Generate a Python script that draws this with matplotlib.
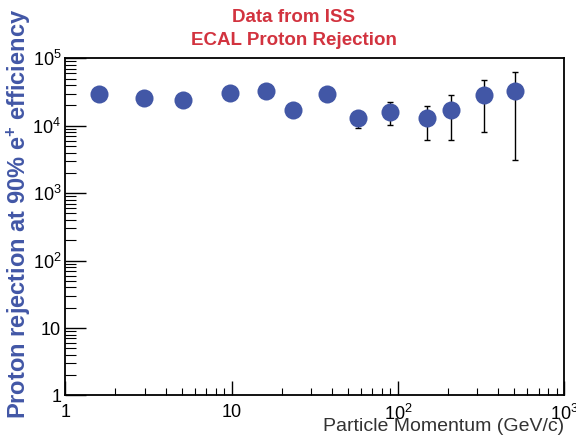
import matplotlib
matplotlib.use("Agg")
import matplotlib.pyplot as plt
import numpy as np
from matplotlib.ticker import FixedLocator, FixedFormatter, LogLocator, NullFormatter

plt.rcParams['font.family'] = ['Liberation Sans', 'DejaVu Sans']
plt.rcParams['mathtext.fontset'] = 'custom'
plt.rcParams['mathtext.rm'] = 'Liberation Sans'
plt.rcParams['mathtext.it'] = 'Liberation Sans:italic'
plt.rcParams['mathtext.bf'] = 'Liberation Sans:bold'

# Data
momentum = [1.60, 2.98, 5.12, 9.81, 16.0, 23.5, 37.3, 57.7, 89.5, 149, 208, 327, 507]
rejection = [29700, 26200, 24200, 30500, 32200, 17200, 29700, 13200, 16200, 13200, 17200, 28400, 33300]
err_low = [29700, 26200, 24200, 30500, 32200, 17200, 29700, 9200, 10100, 6100, 6100, 8100, 3090]
err_high = [29700, 26200, 24200, 30500, 32200, 17200, 29700, 16000, 22400, 19900, 28400, 48400, 63700]

x_ticks = [1, 10, 100, 1000]
x_ticklabels = ['1', '10', '$10^{2}$', '$10^{3}$']
y_ticks = [1, 10, 100, 1000, 10000, 100000]
y_ticklabels = ['1', '10', '$10^{2}$', '$10^{3}$', '$10^{4}$', '$10^{5}$']

fig = plt.figure(figsize=(5.76, 4.41), dpi=100)
ax = fig.add_axes([0.1135, 0.1032, 0.9797 - 0.1135, 0.8678 - 0.1032])
ax.set_xscale('log')
ax.set_yscale('log')
ax.set_xlim(1, 1000)
ax.set_ylim(1, 1e5)

r = np.array(rejection)
lo = r - np.array(err_low)
hi = np.array(err_high) - r
ax.errorbar(momentum, rejection, yerr=[lo, hi], fmt='none', ecolor='black',
            elinewidth=1.0, capsize=2, capthick=1.0, zorder=2)
ax.plot(momentum, rejection, 'o', color='#4257a6', markersize=13,
        markeredgewidth=0, zorder=3)

ax.xaxis.set_major_locator(FixedLocator(x_ticks))
ax.xaxis.set_major_formatter(FixedFormatter(x_ticklabels))
ax.xaxis.set_minor_locator(LogLocator(base=10, subs=np.arange(2, 10)))
ax.xaxis.set_minor_formatter(NullFormatter())
ax.yaxis.set_major_locator(FixedLocator(y_ticks))
ax.yaxis.set_major_formatter(FixedFormatter(y_ticklabels))
ax.yaxis.set_minor_locator(LogLocator(base=10, subs=np.arange(2, 10)))
ax.yaxis.set_minor_formatter(NullFormatter())

ax.tick_params(axis='both', which='both', direction='in', top=False, right=False,
               labelsize=13, color='black')
ax.tick_params(axis='x', which='major', length=10, width=1.0, pad=6)
ax.tick_params(axis='x', which='minor', length=5, width=0.8)
ax.tick_params(axis='y', which='major', length=15, width=1.0, pad=3)
ax.tick_params(axis='y', which='minor', length=8, width=0.8)
for s in ax.spines.values():
    s.set_linewidth(1.3)

fig.text(0.51, 0.961, 'Data from ISS', ha='center', va='center',
         fontsize=13.5, fontweight='bold', color='#d2333f')
fig.text(0.51, 0.908, 'ECAL Proton Rejection', ha='center', va='center',
         fontsize=13.5, fontweight='bold', color='#d2333f')

fig.text(0.979, 0.032, 'Particle Momentum (GeV/c)', ha='right', va='center',
         fontsize=14, color='#333333')
fig.text(0.032, 0.516, 'Proton rejection at 90% e$^{\\mathbf{+}}$ efficiency', rotation=90,
         ha='center', va='center', fontsize=17, fontweight='bold', color='#4257a6')

fig.savefig('out.png', dpi=100)
